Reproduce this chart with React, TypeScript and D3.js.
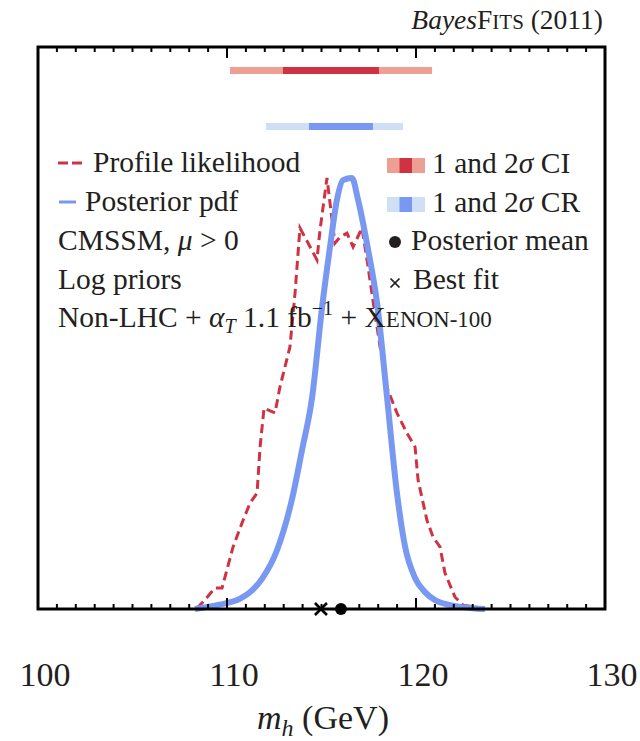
import React from "react";
import * as d3 from "d3";

// ---- data ----
const xTicks = [100, 110, 120, 130];
const minorTicks = d3.range(101, 130, 1);

// Posterior pdf (blue, solid)
const postMass = [108.3, 109.6, 110.7, 111.3, 111.85, 112.65, 113.44, 113.97, 114.5, 115.03, 115.45, 115.82, 116.14, 116.61, 116.93, 117.46, 117.94, 118.47, 118.99, 119.42, 119.95, 120.5, 121.0, 121.7, 122.33, 123.0, 123.65];
const postPdf = [0.0, 0.01, 0.024, 0.042, 0.07, 0.137, 0.255, 0.369, 0.49, 0.7, 0.84, 0.95, 0.995, 1.0, 0.95, 0.835, 0.71, 0.49, 0.27, 0.145, 0.072, 0.038, 0.021, 0.01, 0.005, 0.002, 0.0];

// Profile likelihood (red, dashed)
const profMass = [108.41, 108.73, 109.37, 109.74, 110.32, 110.85, 111.22, 111.59, 111.75, 111.96, 112.54, 112.8, 113.33, 113.6, 113.86, 114.29, 114.76, 114.92, 115.29, 115.45, 115.71, 115.98, 116.35, 116.67, 117.14, 117.41, 117.72, 118.1, 118.47, 118.99, 119.52, 119.95, 120.11, 120.58, 120.9, 121.27, 121.53, 122.06, 122.49, 123.54];
const profLik = [0.002, 0.016, 0.049, 0.049, 0.144, 0.206, 0.246, 0.269, 0.376, 0.466, 0.455, 0.515, 0.608, 0.733, 0.884, 0.849, 0.81, 0.879, 1.0, 0.942, 0.849, 0.863, 0.872, 0.84, 0.884, 0.81, 0.717, 0.608, 0.513, 0.455, 0.408, 0.376, 0.299, 0.206, 0.167, 0.144, 0.084, 0.028, 0.009, 0.002];

// Intervals
const ciOuter = [110.16, 120.85];
const ciInner = [112.96, 118.04];
const crOuter = [112.06, 119.31];
const crInner = [114.34, 117.72];

const bestFit = 114.97;
const postMean = 116.03;

// ---- styles ----
const RED = "#cf3242";
const RED_LIGHT = "#ee9f93";
const BLUE = "#7898f2";
const BLUE_LIGHT = "#cfe0f6";
const INK = "#231f20";
const FONT = "'Liberation Serif', 'Times New Roman', serif";

const L = 38, R = 605, T = 47, B = 609;

export default function App() {
  const x = d3.scaleLinear().domain([100, 130]).range([L, R]);
  const y = d3.scaleLinear().domain([0, 1]).range([B, 178]);

  const postData = postMass.map((m, i) => [m, postPdf[i]] as [number, number]);
  const profData = profMass.map((m, i) => [m, profLik[i]] as [number, number]);

  const postLine = d3.line<[number, number]>().x(d => x(d[0])).y(d => y(d[1])).curve(d3.curveMonotoneX);
  const profLine = d3.line<[number, number]>().x(d => x(d[0])).y(d => y(d[1])).curve(d3.curveLinear);

  const fs = 29.5;

  return (
    <svg width={640} height={741} style={{ position: "absolute", left: 0, top: 0 }} fontFamily={FONT}>
      <rect x={0} y={0} width={640} height={741} fill="white" />
      {/* title */}
      <text x={603} y={29} textAnchor="end" fontSize={27.5} fill={INK}>
        <tspan fontStyle="italic">Bayes</tspan>
        <tspan>F</tspan>
        <tspan fontSize={21}>ITS</tspan>
        <tspan> (2011)</tspan>
      </text>

      {/* interval bars */}
      <rect x={x(ciOuter[0])} y={67} width={x(ciOuter[1]) - x(ciOuter[0])} height={7} fill={RED_LIGHT} />
      <rect x={x(ciInner[0])} y={67} width={x(ciInner[1]) - x(ciInner[0])} height={7} fill={RED} />
      <rect x={x(crOuter[0])} y={123} width={x(crOuter[1]) - x(crOuter[0])} height={7} fill={BLUE_LIGHT} />
      <rect x={x(crInner[0])} y={123} width={x(crInner[1]) - x(crInner[0])} height={7} fill={BLUE} />

      {/* curves */}
      <path d={profLine(profData) || ""} fill="none" stroke={RED} strokeWidth={3} strokeDasharray="9,5" />
      <path d={postLine(postData) || ""} fill="none" stroke={BLUE} strokeWidth={6} strokeLinejoin="round" />

      {/* legend left */}
      <line x1={58} x2={82} y1={163} y2={163} stroke={RED} strokeWidth={3} strokeDasharray="10,4" />
      <text x={93} y={172} fontSize={fs} fill={INK}>Profile likelihood</text>
      <line x1={59} x2={76} y1={202} y2={202} stroke={BLUE} strokeWidth={3} />
      <text x={85} y={211} fontSize={fs} fill={INK}>Posterior pdf</text>
      <text x={58} y={250} fontSize={fs} fill={INK}>
        CMSSM, <tspan fontStyle="italic">μ</tspan> {">"} 0
      </text>
      <text x={58} y={289} fontSize={fs} fill={INK}>Log priors</text>
      <text x={58} y={327} fontSize={fs} fill={INK}>
        <tspan>Non-LHC + </tspan>
        <tspan fontStyle="italic">α</tspan>
        <tspan fontStyle="italic" fontSize={20} dy={6}>T</tspan>
        <tspan dy={-6}> 1.1 fb</tspan>
        <tspan fontSize={20} dy={-12}>−1</tspan>
        <tspan dy={12}> + X</tspan>
        <tspan fontSize={23}>ENON-100</tspan>
      </text>

      {/* legend right */}
      <rect x={387} y={158} width={13} height={15} fill={RED_LIGHT} />
      <rect x={399.5} y={158} width={13} height={15} fill={RED} />
      <rect x={412} y={158} width={13} height={15} fill={RED_LIGHT} />
      <text x={432} y={173} fontSize={fs} fill={INK}>1 and 2<tspan fontStyle="italic">σ</tspan> CI</text>
      <rect x={387} y={197} width={13} height={15} fill={BLUE_LIGHT} />
      <rect x={399.5} y={197} width={13} height={15} fill={BLUE} />
      <rect x={412} y={197} width={13} height={15} fill={BLUE_LIGHT} />
      <text x={432} y={212} fontSize={fs} fill={INK}>1 and 2<tspan fontStyle="italic">σ</tspan> CR</text>
      <circle cx={395} cy={242} r={6} fill={INK} />
      <text x={411} y={250} fontSize={fs} fill={INK}>Posterior mean</text>
      <g stroke={INK} strokeWidth={1.7}>
        <line x1={390.5} x2={399.5} y1={278.5} y2={287.5} />
        <line x1={390.5} x2={399.5} y1={287.5} y2={278.5} />
      </g>
      <text x={413} y={289} fontSize={fs} fill={INK}>Best fit</text>

      {/* frame and ticks */}
      <rect x={L} y={T} width={R - L} height={B - T} fill="none" stroke="black" strokeWidth={3} />
      {minorTicks.map(t => {
        const major = t % 10 === 0;
        const len = major ? 11 : 5;
        return (
          <g key={t} stroke="black" strokeWidth={2}>
            <line x1={x(t)} x2={x(t)} y1={B} y2={B - len} />
            <line x1={x(t)} x2={x(t)} y1={T} y2={T + len} />
          </g>
        );
      })}

      {/* markers */}
      <g stroke="black" strokeWidth={2.6}>
        <line x1={x(bestFit) - 6} x2={x(bestFit) + 6} y1={B - 6} y2={B + 6} />
        <line x1={x(bestFit) - 6} x2={x(bestFit) + 6} y1={B + 6} y2={B - 6} />
      </g>
      <circle cx={x(postMean)} cy={B} r={6} fill="black" />

      {/* tick labels */}
      {xTicks.map(t => (
        <text key={t} x={x(t) + 7} y={686} textAnchor="middle" fontSize={34} fill={INK}>{t}</text>
      ))}
      <text x={323} y={729} textAnchor="middle" fontSize={34} fill={INK}>
        <tspan fontStyle="italic">m</tspan>
        <tspan fontStyle="italic" fontSize={24} dy={7}>h</tspan>
        <tspan dy={-7}> (GeV)</tspan>
      </text>
    </svg>
  );
}
